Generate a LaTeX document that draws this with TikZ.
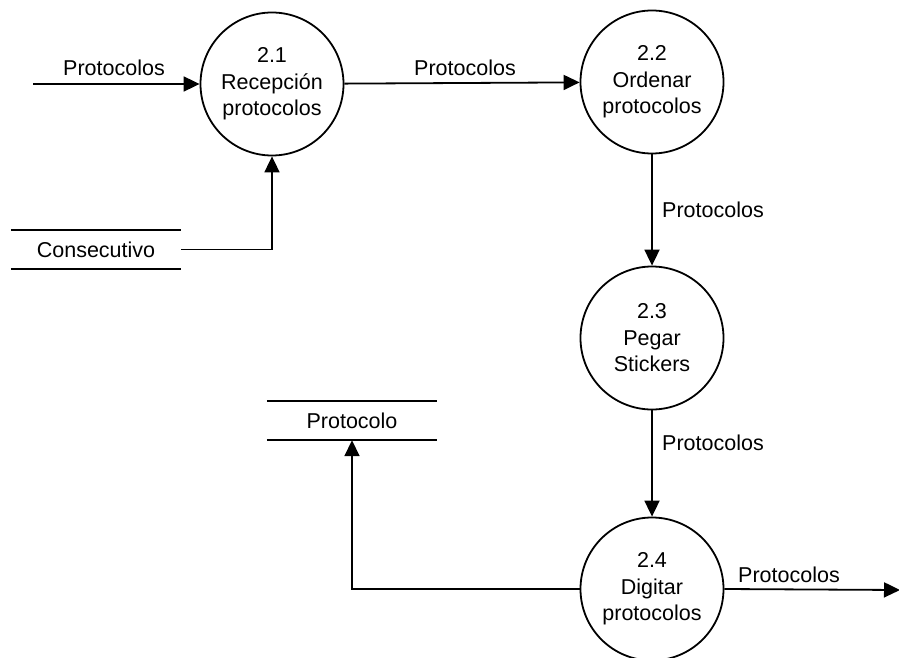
\documentclass[tikz,border=0pt]{standalone}
\usepackage{fontspec}
\setmainfont{Liberation Sans}
\usetikzlibrary{arrows.meta}
\begin{document}
\begin{tikzpicture}[x=1pt,y=-1pt,
  every node/.style={font=\fontsize{21.5}{26.5}\selectfont},
  proc/.style={draw,circle,line width=1.8pt,minimum size=143pt,inner sep=0pt,align=center},
  store/.style={minimum width=170pt,minimum height=39pt,inner sep=0pt},
  flow/.style={line width=1.8pt,-{Triangle[length=16pt,width=15pt]}},
  lbl/.style={inner sep=0pt}]
\useasboundingbox (0,0) rectangle (899,658);
\clip (0,0) rectangle (899,658);
\node[proc] (p21) at (272,84) {2.1\\Recepción\\protocolos};
\node[proc] (p22) at (652,82) {2.2\\Ordenar\\protocolos};
\node[proc] (p23) at (652,338) {2.3\\Pegar\\Stickers};
\node[proc] (p24) at (652,589) {2.4\\Digitar\\protocolos};
\node[store] (cons) at (96,249.5) {Consecutivo};
\node[store] (prot) at (352,420.5) {Protocolo};
\foreach \s in {cons,prot}{
  \draw[line width=1.8pt] (\s.north west) -- (\s.north east);
  \draw[line width=1.8pt] (\s.south west) -- (\s.south east);
}
\coordinate (in) at (33,84);
\coordinate (out) at (900,590);
\draw[flow] (in) -- (p21);
\draw[flow] (p21) -- (p22);
\draw[flow] (p22) -- (p23);
\draw[flow] (p23) -- (p24);
\draw[flow] (cons.east) -| (p21.south);
\draw[flow] (p24.west) -| (prot.south);
\draw[flow] (p24.east) -- (out);
\node[lbl] (l1) at (114,68) {Protocolos};
\node[lbl] (l2) at (465,68) {Protocolos};
\node[lbl,anchor=west] (l3) at (662,210) {Protocolos};
\node[lbl,anchor=west] (l4) at (662,443) {Protocolos};
\node[lbl,anchor=west] (l5) at (738,575) {Protocolos};
\end{tikzpicture}
\end{document}
